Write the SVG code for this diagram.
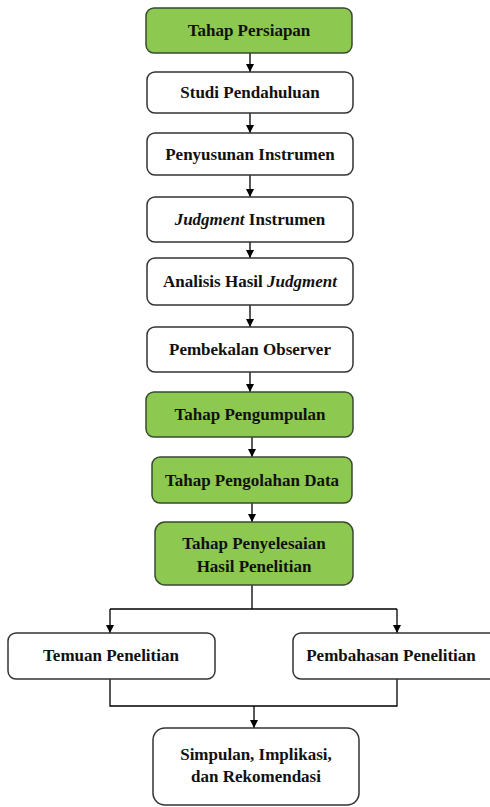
<svg xmlns="http://www.w3.org/2000/svg" width="490" height="807" viewBox="0 0 490 807">
<defs>
<marker id="ah" markerWidth="8" markerHeight="8" refX="8" refY="4" orient="auto" markerUnits="userSpaceOnUse">
<path d="M0,0 L8,4 L0,8 Z" fill="#000"/>
</marker>
<style>
.b{fill:#fff;stroke:#333;stroke-width:1.5}
.g{fill:#8DC850;stroke:#3a4a30;stroke-width:1.5}
.t{font-family:'Liberation Serif','DejaVu Serif',serif;font-weight:bold;font-size:17px;fill:#111;text-anchor:middle}
.c{fill:none;stroke:#000;stroke-width:1.3}
</style>
</defs>
<rect width="490" height="807" fill="#fff"/>
<g id="connectors">
<line class="c" x1="250" y1="53" x2="250" y2="72" marker-end="url(#ah)"/>
<line class="c" x1="250" y1="113" x2="250" y2="133" marker-end="url(#ah)"/>
<line class="c" x1="250" y1="175" x2="250" y2="197" marker-end="url(#ah)"/>
<line class="c" x1="250" y1="242" x2="250" y2="258" marker-end="url(#ah)"/>
<line class="c" x1="250" y1="305" x2="250" y2="327" marker-end="url(#ah)"/>
<line class="c" x1="250" y1="372" x2="250" y2="392" marker-end="url(#ah)"/>
<line class="c" x1="252" y1="437" x2="252" y2="457" marker-end="url(#ah)"/>
<line class="c" x1="252" y1="503" x2="252" y2="522" marker-end="url(#ah)"/>
<polyline class="c" points="252,585 252,609"/>
<polyline class="c" points="110,609 397,609"/>
<line class="c" x1="110" y1="609" x2="110" y2="633" marker-end="url(#ah)"/>
<line class="c" x1="397" y1="609" x2="397" y2="633" marker-end="url(#ah)"/>
<polyline class="c" points="110,679 110,706 397,706 397,679"/>
<line class="c" x1="254" y1="706" x2="254" y2="728" marker-end="url(#ah)"/>
</g>
<g id="n1"><rect class="g" x="146" y="8" width="206" height="45" rx="8"/><text class="t" x="249" y="36">Tahap Persiapan</text></g>
<g id="n2"><rect class="b" x="147" y="72" width="206" height="41" rx="8"/><text class="t" x="250" y="98">Studi Pendahuluan</text></g>
<g id="n3"><rect class="b" x="147" y="133" width="206" height="42" rx="8"/><text class="t" x="250" y="160">Penyusunan Instrumen</text></g>
<g id="n4"><rect class="b" x="147" y="197" width="206" height="45" rx="8"/><text class="t" x="250" y="225"><tspan font-style="italic">Judgment</tspan> Instrumen</text></g>
<g id="n5"><rect class="b" x="147" y="258" width="206" height="47" rx="8"/><text class="t" x="250" y="287">Analisis Hasil <tspan font-style="italic">Judgment</tspan></text></g>
<g id="n6"><rect class="b" x="147" y="327" width="206" height="45" rx="8"/><text class="t" x="250" y="355">Pembekalan Observer</text></g>
<g id="n7"><rect class="g" x="146" y="392" width="207" height="45" rx="8"/><text class="t" x="250" y="420">Tahap Pengumpulan</text></g>
<g id="n8"><rect class="g" x="152" y="457" width="200" height="46" rx="8"/><text class="t" x="252" y="486">Tahap Pengolahan Data</text></g>
<g id="n9"><rect class="g" x="155" y="522" width="198" height="63" rx="10"/><text class="t" x="254" y="549">Tahap Penyelesaian</text><text class="t" x="254" y="572">Hasil Penelitian</text></g>
<g id="n10"><rect class="b" x="8" y="633" width="207" height="46" rx="8"/><text class="t" x="111" y="661">Temuan Penelitian</text></g>
<g id="n11"><rect class="b" x="293" y="633" width="205" height="46" rx="8"/><text class="t" x="391" y="661">Pembahasan Penelitian</text></g>
<g id="n12"><rect class="b" x="153" y="728" width="206" height="77" rx="12"/><text class="t" x="256" y="760">Simpulan, Implikasi,</text><text class="t" x="256" y="782">dan Rekomendasi</text></g>
</svg>
